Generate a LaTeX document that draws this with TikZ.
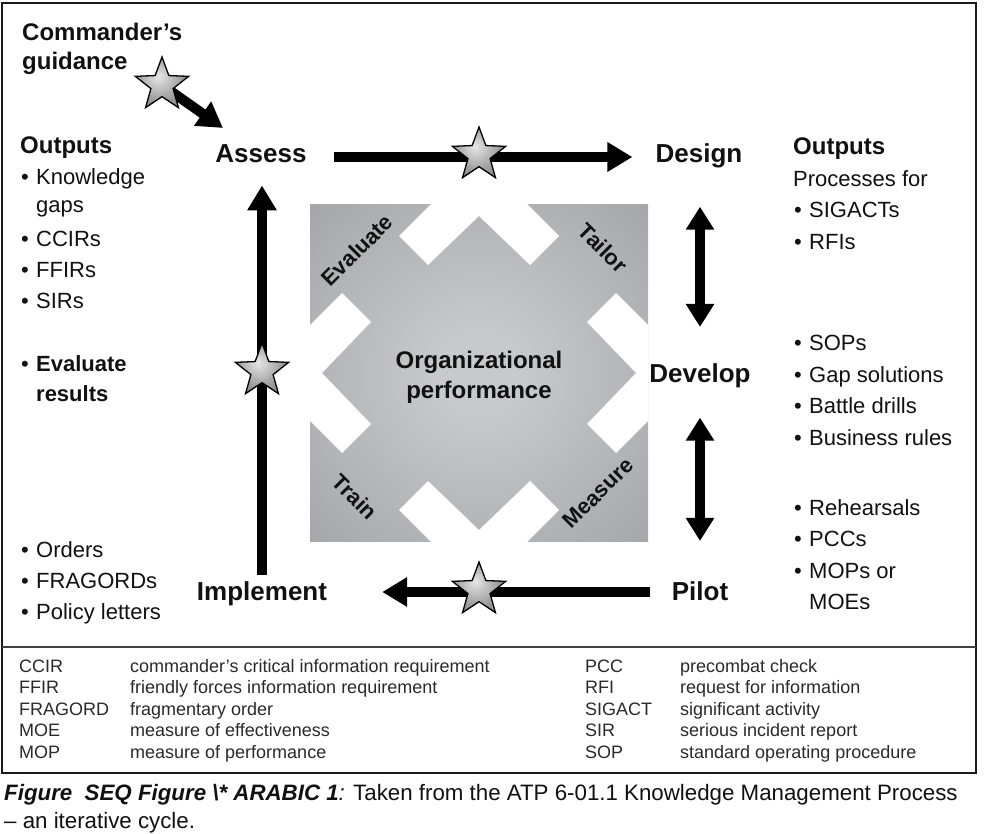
\documentclass[tikz,border=0pt]{standalone}
\usepackage{fontspec}
\setmainfont{Liberation Sans}
\usetikzlibrary{arrows.meta,shapes.geometric}
\definecolor{ink}{HTML}{111111}
\definecolor{glossink}{HTML}{2A2A2A}
\definecolor{sqin}{HTML}{C8C9CB}
\definecolor{sqout}{HTML}{7C7D81}
\definecolor{stlight}{HTML}{E6E6E6}
\definecolor{stmid}{HTML}{9A9A9A}
\definecolor{stdark}{HTML}{5A5A5A}
\pgfdeclareradialshading{sqshade}{\pgfpoint{0bp}{0bp}}{color(0bp)=(sqin); color(6bp)=(sqin); color(71bp)=(sqout)}
\pgfdeclareradialshading{starshade}{\pgfpoint{-4bp}{6bp}}{color(0bp)=(stlight); color(22bp)=(stmid); color(50bp)=(stdark)}
\pgfdeclarelayer{bg}
\pgfdeclarelayer{paper}
\pgfsetlayers{paper,bg,main}
\begin{document}
\begin{tikzpicture}[x=1pt,y=-1pt,
  every node/.style={inner sep=0pt, text=ink},
  stage/.style={font=\fontsize{26}{30}\selectfont\bfseries, anchor=base},
  head/.style={font=\fontsize{24}{28}\selectfont\bfseries, anchor=base west},
  body/.style={font=\fontsize{22}{26}\selectfont, anchor=base west},
  gloss/.style={font=\fontsize{18}{21}\selectfont, anchor=base west, text=glossink},
  cornerlbl/.style={font=\fontsize{22}{24}\selectfont\bfseries},
  bigarrow/.style={line width=10pt, draw=black, -{Triangle[length=25pt,width=28pt]}},
  dblarrow/.style={line width=10pt, draw=black, {Triangle[length=23pt,width=27pt]}-{Triangle[length=23pt,width=27pt]}},
  starnode/.style={star, star points=5, star point ratio=2.4, minimum size=56pt, draw=black, line width=1.3pt, shading=starshade}
]
\useasboundingbox (0,0) rectangle (984,834);
\begin{pgfonlayer}{paper}
\fill[white] (0,0) rectangle (984,834);
\end{pgfonlayer}

% frame
\draw[line width=2.2pt, black!90] (2,3) rectangle (976,773);
\draw[line width=1.6pt, black!75] (2,647) -- (976,647);

% central square
\shade[shading=sqshade] (310,205) rectangle (648,541);
\begin{scope}
  \clip (310,205) rectangle (648,541);
  \foreach \a in {0,90,180,270} {
    \fill[white, shift={(479,373)}, rotate=\a]
      (-51,-108) -- (0,-157) -- (51,-108) -- (80,-137) -- (0,-217) -- (-80,-137) -- cycle;
  }
\end{scope}
\node[cornerlbl, rotate=45] (evl) at (357,250) {Evaluate};
\node[cornerlbl, rotate=-45] (tlr) at (603,248) {Tailor};
\node[cornerlbl, rotate=-45] (trn) at (355,497) {Train};
\node[cornerlbl, rotate=45] (msr) at (598,493) {Measure};
\node[font=\fontsize{24}{30}\selectfont\bfseries, anchor=base] (org1) at (479,368) {Organizational};
\node[font=\fontsize{24}{30}\selectfont\bfseries, anchor=base] (org2) at (479,398) {performance};

% stage labels
\node[stage] (assess) at (261,163) {Assess};
\node[stage] (design) at (699,163) {Design};
\node[stage] (develop) at (700,382) {Develop};
\node[stage] (pilot) at (700,600) {Pilot};
\node[stage] (implement) at (262,600) {Implement};

% commander's guidance
\node[head] (cmd1) at (22,41) {Commander’s};
\node[head] (cmd2) at (22,70) {guidance};

% left outputs
\node[head] (lout) at (20,154) {Outputs};
\node[body] (l1) at (21,185) {\makebox[15pt][l]{•}Knowledge};
\node[body] (l1b) at (36,213) {gaps};
\node[body] (l2) at (21,246) {\makebox[15pt][l]{•}CCIRs};
\node[body] (l3) at (21,277) {\makebox[15pt][l]{•}FFIRs};
\node[body] (l4) at (21,308) {\makebox[15pt][l]{•}SIRs};
\node[body] (l5) at (21,371) {\makebox[15pt][l]{•}\textbf{Evaluate}};
\node[body] (l5b) at (36,401) {\textbf{results}};

% left bottom list
\node[body] (b1) at (21,557) {\makebox[15pt][l]{•}Orders};
\node[body] (b2) at (21,588) {\makebox[15pt][l]{•}FRAGORDs};
\node[body] (b3) at (21,619) {\makebox[15pt][l]{•}Policy letters};

% right outputs
\node[head] (rout) at (793,155) {Outputs};
\node[body] (r0) at (793,187) {Processes for};
\node[body] (r1) at (794,218) {\makebox[15pt][l]{•}SIGACTs};
\node[body] (r2) at (794,249) {\makebox[15pt][l]{•}RFIs};
\node[body] (r3) at (794,350) {\makebox[15pt][l]{•}SOPs};
\node[body] (r4) at (794,382) {\makebox[15pt][l]{•}Gap solutions};
\node[body] (r5) at (794,413) {\makebox[15pt][l]{•}Battle drills};
\node[body] (r6) at (794,445) {\makebox[15pt][l]{•}Business rules};
\node[body] (r7) at (794,515) {\makebox[15pt][l]{•}Rehearsals};
\node[body] (r8) at (794,546) {\makebox[15pt][l]{•}PCCs};
\node[body] (r9) at (794,578) {\makebox[15pt][l]{•}MOPs or};
\node[body] (r9b) at (809,609) {MOEs};

% stars
\node[starnode] (s1) at (162,85) {};
\node[starnode] (s2) at (479,155) {};
\node[starnode] (s3) at (262,371) {};
\node[starnode] (s4) at (479,590) {};
\coordinate (ctip) at (223,128);

% arrows (behind stars)
\begin{pgfonlayer}{bg}
\draw[bigarrow] (s1.center) -- (ctip);
\draw[bigarrow, shorten <=27pt, shorten >=23pt] (assess.east |- 0,157) -- (design.west |- 0,157);
\draw[bigarrow, shorten <=6pt, shorten >=22pt] (implement.north) -- (assess.south -| implement.north);
\draw[bigarrow, shorten <=22pt, shorten >=55pt] (pilot.west |- 0,592) -- (implement.east |- 0,592);
\draw[dblarrow, shorten <=38pt, shorten >=36pt] (design.south -| develop.north) -- (develop.north);
\draw[dblarrow, shorten <=30pt, shorten >=40pt] (develop.south) -- (pilot.north -| develop.south);
\end{pgfonlayer}

% glossary
\node[gloss] (g1a) at (19,672) {CCIR};
\node[gloss] (g1b) at (130,672) {commander’s critical information requirement};
\node[gloss] (g2a) at (19,693.5) {FFIR};
\node[gloss] (g2b) at (130,693.5) {friendly forces information requirement};
\node[gloss] (g3a) at (19,715) {FRAGORD};
\node[gloss] (g3b) at (130,715) {fragmentary order};
\node[gloss] (g4a) at (19,736.5) {MOE};
\node[gloss] (g4b) at (130,736.5) {measure of effectiveness};
\node[gloss] (g5a) at (19,758) {MOP};
\node[gloss] (g5b) at (130,758) {measure of performance};
\node[gloss] (h1a) at (585,672) {PCC};
\node[gloss] (h1b) at (680,672) {precombat check};
\node[gloss] (h2a) at (585,693.5) {RFI};
\node[gloss] (h2b) at (680,693.5) {request for information};
\node[gloss] (h3a) at (585,715) {SIGACT};
\node[gloss] (h3b) at (680,715) {significant activity};
\node[gloss] (h4a) at (585,736.5) {SIR};
\node[gloss] (h4b) at (680,736.5) {serious incident report};
\node[gloss] (h5a) at (585,758) {SOP};
\node[gloss] (h5b) at (680,758) {standard operating procedure};

% caption
\node[body, font=\fontsize{22.3}{26}\selectfont] (cap1) at (4,800) {\textbf{\textit{Figure\ \ SEQ Figure \textbackslash* ARABIC 1}}\textit{:} Taken from the ATP 6-01.1 Knowledge Management Process};
\node[body, font=\fontsize{22.3}{26}\selectfont] (cap2) at (4,828) {– an iterative cycle.};
\end{tikzpicture}
\end{document}
